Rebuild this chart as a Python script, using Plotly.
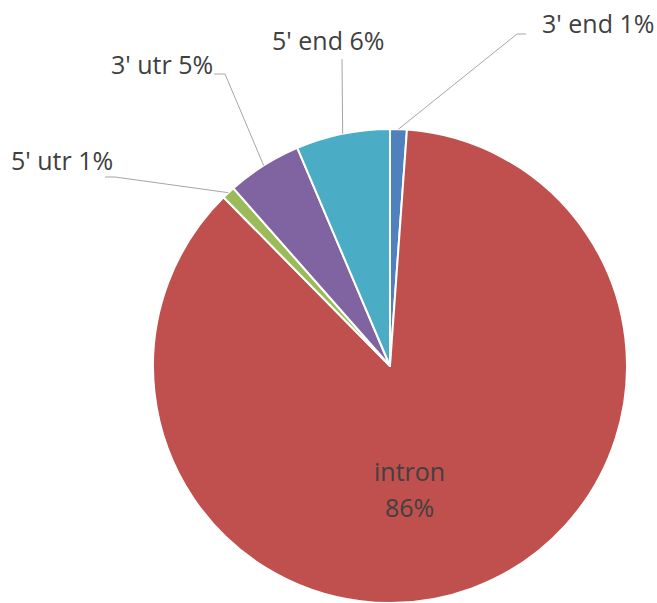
import math
import plotly.graph_objects as go

# ---- data ----
labels = ["3' end", "intron", "5' utr", "3' utr", "5' end"]
values = [1.14, 86.5, 0.9, 5.1, 6.4]
pct_text = ["1%", "86%", "1%", "5%", "6%"]
colors = ["#4F81BD", "#C0504D", "#9BBB59", "#8064A2", "#4BACC6"]

# ---- layout constants ----
W, H = 657, 603
CX, CY, R = 390, 366, 237          # pie centre / radius in pixels (from top-left)
dom_x = [(CX - R) / W, (CX + R) / W]
dom_y = [max(0.0, (H - CY - R) / H), (H - CY + R) / H]

FONT = "Open Sans"
FS = 25
TXT = "#404040"
LINE = "#A6A6A6"

# label placement (pixels): label centre, elbow, end of leader line
label_layout = {
    "3' end": dict(tx=598, ty=23, pts=[(517, 34), (526, 34)]),
    "5' end": dict(tx=328, ty=40, pts=[(342, 59)]),
    "3' utr": dict(tx=162, ty=64, pts=[(225, 74), (214, 74)]),
    "5' utr": dict(tx=62, ty=160, pts=[(115, 177), (105, 177)]),
}
intron_offset = (-23, 7)  # offset of inner label centre from slice-derived point


def px2paper(x, y):
    return x / W, 1 - y / H


fig = go.Figure(go.Pie(
    labels=labels,
    values=values,
    sort=False,
    direction="clockwise",
    rotation=0,
    marker=dict(colors=colors, line=dict(color="white", width=2)),
    textinfo="none",
    hoverinfo="label+percent",
    domain=dict(x=dom_x, y=dom_y),
    showlegend=False,
))

total = sum(values)
cum = 0.0
annotations = []
shapes = []
for lab, v, pt in zip(labels, values, pct_text):
    mid = (cum + v / 2) / total * 2 * math.pi
    cum += v
    if lab in label_layout:
        L = label_layout[lab]
        ex = CX + R * math.sin(mid)
        ey = CY - R * math.cos(mid)
        pts = [(ex, ey)] + L["pts"]
        path = "M " + " L ".join(
            f"{px2paper(x, y)[0]},{px2paper(x, y)[1]}" for x, y in pts)
        shapes.append(dict(type="path", xref="paper", yref="paper", path=path,
                           line=dict(color=LINE, width=1)))
        ax_, ay_ = px2paper(L["tx"], L["ty"])
        annotations.append(dict(text=f"{lab} {pt}", x=ax_, y=ay_, xref="paper",
                                yref="paper", showarrow=False, xanchor="center",
                                yanchor="middle",
                                font=dict(family=FONT, size=FS, color=TXT)))
    else:
        rr = 0.52 * R
        ix = CX + rr * math.sin(mid) + intron_offset[0]
        iy = CY - rr * math.cos(mid) + intron_offset[1]
        for i, line_txt in enumerate([lab, pt]):
            tx_, ty_ = px2paper(ix, iy + (i - 0.5) * 36)
            annotations.append(dict(text=line_txt, x=tx_, y=ty_, xref="paper",
                                    yref="paper", showarrow=False,
                                    xanchor="center", yanchor="middle",
                                    font=dict(family=FONT, size=FS, color=TXT)))

fig.update_layout(
    width=W, height=H,
    margin=dict(l=0, r=0, t=0, b=0),
    paper_bgcolor="white", plot_bgcolor="white",
    annotations=annotations,
    shapes=shapes,
)

fig.write_html("out.html",
               config={"displayModeBar": False},
               post_script="document.body.style.margin='0';"
                           "document.body.style.overflow='hidden';")
